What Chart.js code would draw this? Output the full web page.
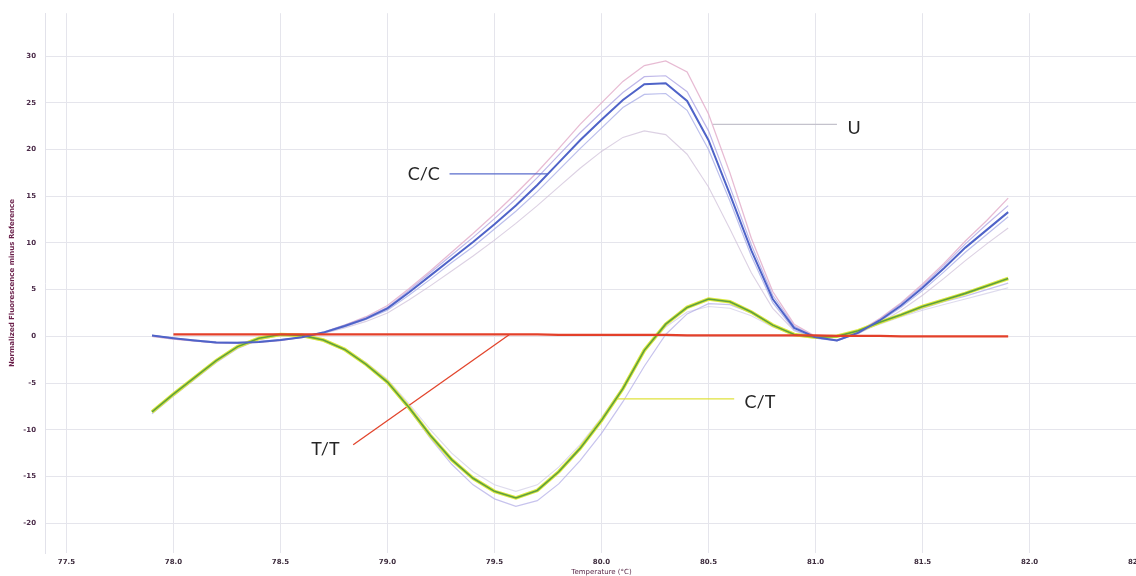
<!DOCTYPE html>
<html>
<head>
<meta charset="utf-8">
<style>
  html, body { margin: 0; padding: 0; background: #ffffff; overflow: hidden; }
  #wrap { width: 1136px; height: 576px; overflow: hidden; position: relative; }
  canvas { display: block; }
</style>
<script src="https://cdn.jsdelivr.net/npm/chart.js@4.4.1/dist/chart.umd.min.js"></script>
</head>
<body>
<div id="wrap"><canvas id="melt" width="1160" height="576"></canvas></div>
<script>
// Melt-curve temperatures (°C)
const temps = [77.9, 78.0, 78.1, 78.2, 78.3, 78.4, 78.5, 78.6, 78.7, 78.8, 78.9,
               79.0, 79.1, 79.2, 79.3, 79.4, 79.5, 79.6, 79.7, 79.8, 79.9,
               80.0, 80.1, 80.2, 80.3, 80.4, 80.5, 80.6, 80.7, 80.8, 80.9,
               81.0, 81.1, 81.2, 81.3, 81.4, 81.5, 81.6, 81.7, 81.8, 81.9];

// C/C genotype (main trace)
const ccMain = [0.1, -0.2, -0.45, -0.65, -0.7, -0.6, -0.4, -0.1, 0.4, 1.1, 1.9,
                3.0, 4.7, 6.5, 8.3, 10.1, 12.0, 14.0, 16.2, 18.6, 21.0,
                23.2, 25.3, 27.0, 27.1, 25.2, 21.0, 15.2, 9.2, 4.0, 0.9,
                -0.1, -0.45, 0.4, 1.7, 3.3, 5.2, 7.3, 9.5, 11.4, 13.3];
// C/C replicates
const ccRepB = [0.1, -0.2, -0.5, -0.7, -0.75, -0.6, -0.4, -0.1, 0.45, 1.2, 2.0,
                3.1, 4.9, 6.8, 8.7, 10.6, 12.6, 14.7, 17.0, 19.4, 21.8,
                24.0, 26.1, 27.8, 27.9, 26.2, 22.0, 16.0, 9.8, 4.4, 1.1,
                -0.1, -0.45, 0.4, 1.8, 3.5, 5.4, 7.6, 9.9, 12.0, 14.0];
const ccRepC = [0.1, -0.2, -0.4, -0.6, -0.65, -0.55, -0.35, -0.1, 0.35, 1.0, 1.8,
                2.8, 4.4, 6.1, 7.9, 9.6, 11.5, 13.4, 15.5, 17.8, 20.1,
                22.3, 24.5, 25.9, 26.0, 24.2, 20.0, 14.5, 8.6, 3.6, 0.7,
                -0.2, -0.5, 0.3, 1.6, 3.1, 4.9, 6.9, 9.0, 10.9, 12.8];
// Unknown samples (U)
const uHigh = [0.0, -0.3, -0.5, -0.7, -0.75, -0.65, -0.45, -0.1, 0.4, 1.2, 2.1,
               3.3, 5.1, 7.0, 9.0, 11.0, 13.1, 15.3, 17.6, 20.1, 22.7,
               25.0, 27.3, 29.0, 29.5, 28.3, 23.8, 17.5, 10.5, 4.8, 1.3,
               0.0, -0.4, 0.5, 1.9, 3.6, 5.6, 7.8, 10.2, 12.4, 14.8];
const uLow = [0.0, -0.3, -0.5, -0.65, -0.7, -0.6, -0.4, -0.15, 0.3, 0.9, 1.6,
              2.5, 3.9, 5.4, 7.0, 8.6, 10.3, 12.1, 14.0, 16.0, 18.0,
              19.8, 21.3, 22.0, 21.6, 19.5, 16.0, 11.5, 6.8, 3.0, 0.6,
              -0.2, -0.4, 0.3, 1.4, 2.8, 4.4, 6.2, 8.1, 9.9, 11.6];

// C/T genotype (main trace)
const ctMain = [-8.1, -6.2, -4.4, -2.6, -1.1, -0.2, 0.2, 0.1, -0.4, -1.4, -3.0,
                -4.9, -7.6, -10.6, -13.2, -15.2, -16.6, -17.3, -16.5, -14.5, -12.0,
                -9.0, -5.6, -1.5, 1.3, 3.1, 4.0, 3.7, 2.6, 1.2, 0.2,
                -0.1, 0.0, 0.6, 1.5, 2.3, 3.2, 3.9, 4.6, 5.4, 6.2];
// C/T replicates
const ctRepLow = [-8.3, -6.4, -4.6, -2.8, -1.3, -0.35, 0.1, 0.0, -0.5, -1.5, -3.1,
                  -5.0, -7.8, -10.9, -13.7, -15.9, -17.4, -18.2, -17.6, -15.8, -13.3,
                  -10.4, -7.0, -3.2, 0.2, 2.4, 3.5, 3.4, 2.5, 1.1, 0.1,
                  -0.2, -0.1, 0.5, 1.4, 2.2, 3.0, 3.7, 4.3, 5.0, 5.7];
const ctRepHigh = [-8.0, -6.1, -4.3, -2.5, -1.0, -0.15, 0.2, 0.1, -0.35, -1.3, -2.8,
                   -4.6, -7.2, -10.0, -12.5, -14.5, -15.9, -16.6, -15.9, -14.0, -11.6,
                   -8.7, -5.4, -1.6, 1.0, 2.6, 3.2, 3.0, 2.2, 1.0, 0.2,
                   -0.1, 0.0, 0.5, 1.3, 2.1, 2.8, 3.4, 4.0, 4.6, 5.2];

// T/T genotype (reference, flat after normalisation)
const ttMain = [null, 0.2, 0.2, 0.2, 0.2, 0.2, 0.2, 0.2, 0.2, 0.2, 0.2,
                0.2, 0.2, 0.2, 0.2, 0.2, 0.2, 0.2, 0.2, 0.15, 0.15,
                0.15, 0.15, 0.15, 0.15, 0.1, 0.1, 0.1, 0.1, 0.1, 0.1,
                0.1, 0.05, 0.05, 0.05, 0.0, 0.0, 0.0, 0.0, 0.0, 0.0];

// Axis ticks
const xTickValues = [77.5, 78.0, 78.5, 79.0, 79.5, 80.0, 80.5, 81.0, 81.5, 82.0, 82.5];
const xTickLabels = ['77.5', '78.0', '78.5', '79.0', '79.5', '80.0', '80.5', '81.0', '81.5', '82.0', '82.5'];
const yTickValues = [30, 25, 20, 15, 10, 5, 0, -5, -10, -15, -20];
const yTickLabels = ['30', '25', '20', '15', '10', '5', '0', '-5', '-10', '-15', '-20'];

// Genotype call-outs: leader line end points and text anchor, in data units
const callouts = [
  { text: 'C/C', color: '#5a6ccc', line: [[79.29, 17.4], [79.75, 17.4]], at: [79.17, 17.4] },
  { text: 'U',   color: '#c4c2cc', line: [[80.52, 22.7], [81.10, 22.7]], at: [81.18, 22.3] },
  { text: 'C/T', color: '#dfe23c', line: [[80.06, -6.7], [80.62, -6.7]], at: [80.74, -7.0] },
  { text: 'T/T', color: '#e2452c', line: [[78.84, -11.6], [79.57, 0.2]], at: [78.71, -12.1] }
];

const pts = arr => temps.map((t, i) => ({ x: t, y: arr[i] }));

function trace(data, color, width, order) {
  return {
    data: pts(data), borderColor: color, borderWidth: width, order: order,
    pointRadius: 0, tension: 0, fill: false, spanGaps: false
  };
}

const datasets = [
  trace(ttMain, '#e3402a', 2.2, 0),
  trace(ccMain, '#4f63c8', 2.0, 1),
  trace(ctMain, '#5f9f3e', 1.6, 2),
  trace(ctMain, '#dbe83c', 3.6, 3),
  trace(ccRepB, 'rgba(170,160,225,0.75)', 1.2, 6),
  trace(ccRepC, 'rgba(165,170,230,0.75)', 1.2, 6),
  trace(uHigh, 'rgba(225,170,200,0.8)', 1.3, 7),
  trace(uLow, 'rgba(205,190,215,0.7)', 1.1, 7),
  trace(ctRepLow, 'rgba(175,170,230,0.7)', 1.2, 6),
  trace(ctRepHigh, 'rgba(200,195,225,0.6)', 1.1, 6)
];

callouts.forEach(c => {
  datasets.push({
    data: c.line.map(p => ({ x: p[0], y: p[1] })),
    borderColor: c.color, borderWidth: 1.3, order: 4,
    pointRadius: 0, tension: 0, fill: false
  });
});

// Writes the genotype names next to their leader lines
const calloutText = {
  id: 'calloutText',
  afterDatasetsDraw(chart) {
    const { ctx, scales } = chart;
    ctx.save();
    ctx.font = '18px Lato, "Noto Sans", sans-serif';
    ctx.fillStyle = '#262626';
    ctx.textAlign = 'center';
    ctx.textBaseline = 'middle';
    callouts.forEach(c => {
      ctx.fillText(c.text, scales.x.getPixelForValue(c.at[0]), scales.y.getPixelForValue(c.at[1]));
    });
    ctx.restore();
  }
};

const tickFont = { family: '"DejaVu Sans", sans-serif', size: 7, weight: 'bold' };

new Chart(document.getElementById('melt'), {
  type: 'line',
  data: { datasets },
  plugins: [calloutText],
  options: {
    responsive: false,
    animation: false,
    parsing: true,
    layout: { padding: { top: 12, right: 2, left: 0, bottom: 0 } },
    plugins: { legend: { display: false }, tooltip: { enabled: false } },
    scales: {
      x: {
        type: 'linear', min: 77.4, max: 82.6,
        afterBuildTicks: s => { s.ticks = xTickValues.map(v => ({ value: v })); },
        afterFit: s => { s.height = 23; },
        ticks: {
          autoSkip: false, maxRotation: 0, padding: 5, color: '#3d2c3d', font: tickFont,
          callback: v => xTickLabels[xTickValues.indexOf(v)] ?? ''
        },
        grid: { color: '#e5e5ec', lineWidth: 1, drawTicks: false },
        border: { display: false },
        title: {
          display: true, text: 'Temperature (°C)', color: '#5a2a4a',
          font: { family: '"DejaVu Sans", sans-serif', size: 7 }, padding: { top: 0, bottom: 0 }
        }
      },
      y: {
        type: 'linear', min: -23.2, max: 34.6,
        afterBuildTicks: s => { s.ticks = yTickValues.map(v => ({ value: v })); },
        afterFit: s => { s.width = 45; },
        ticks: {
          autoSkip: false, padding: 9, color: '#4a2a48', font: tickFont,
          callback: v => yTickLabels[yTickValues.indexOf(v)] ?? ''
        },
        grid: { color: '#e5e5ec', lineWidth: 1, drawTicks: false },
        border: { display: true, color: '#e2e2ea' },
        title: {
          display: true, text: 'Normalized Fluorescence minus Reference', color: '#6a1f4a',
          font: { family: '"DejaVu Sans", sans-serif', size: 7, weight: 'bold' }, padding: { top: 8, bottom: 0 }
        }
      }
    }
  }
});
</script>
</body>
</html>
